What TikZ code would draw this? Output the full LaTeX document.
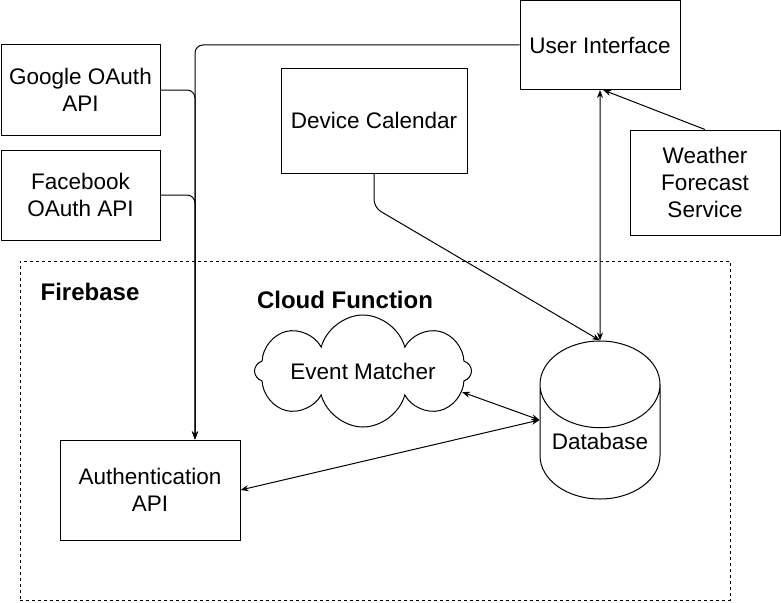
\documentclass[tikz,border=0pt]{standalone}
\usepackage{fontspec}
\setmainfont{Liberation Sans}
\usetikzlibrary{arrows.meta,shapes.geometric,shapes.symbols}
\tikzset{
  box/.style={draw, align=center, inner sep=0pt},
  title/.style={font=\fontsize{24}{28}\selectfont\bfseries},
  link/.style={-{Stealth[length=8pt,width=6pt]}},
  both/.style={{Stealth[length=8pt,width=6pt]}-{Stealth[length=8pt,width=6pt]}},
}
\begin{document}
\begin{tikzpicture}[x=1pt, y=-1pt, line width=1pt, font=\fontsize{22.5}{27}\selectfont]
	\useasboundingbox (0,0) rectangle (781,602);

	% firebase frame
	\node[draw, dash pattern=on 3pt off 3pt, minimum width=710pt, minimum height=339pt] (fb) at (375,430.5) {};
	\node[title] (fbname) at (90,292) {Firebase};
	\node[title] (cfname) at (345,300) {Cloud Function};

	% boxes
	\node[box, minimum width=160pt, minimum height=89pt] (ui) at (600,45) {User Interface};
	\node[box, minimum width=159pt, minimum height=90pt] (go) at (80.5,90) {Google OAuth\\API};
	\node[box, minimum width=159pt, minimum height=90pt] (fa) at (80.5,195) {Facebook\\OAuth API};
	\node[box, minimum width=186pt, minimum height=105pt] (dc) at (374,120.5) {Device Calendar};
	\node[box, minimum width=150pt, minimum height=105pt] (wf) at (705,182.5) {Weather\\Forecast\\Service};
	\node[box, minimum width=180pt, minimum height=100pt] (auth) at (150,490) {Authentication\\API};
	\node[draw, cloud, cloud puffs=8, cloud ignores aspect, minimum width=217pt, minimum height=112pt, inner sep=0pt] (em) at (363,371) {Event Matcher};
	\node[draw, cylinder, shape border rotate=90, aspect=0.9, minimum width=120pt, minimum height=158pt, inner sep=0pt, anchor=shape center] (db) at (600,420) {Database};

	\coordinate (bus) at (195,0);
	\coordinate (dbin) at (db.west |- db.shape center);

	% edges
	\draw[link, rounded corners=8pt] (ui.west) -| (bus |- auth.north);
	\draw[link, rounded corners=8pt] (go.east) -| (bus |- auth.north);
	\draw[link, rounded corners=8pt] (fa.east) -| (bus |- auth.north);
	\draw[link, rounded corners=8pt] (dc.south) -- ++(0,34) -- (db.north);
	\draw[both] (ui.south) -- (db.north);
	\draw[link] (wf.north) -- (ui.-86);
	\draw[both] (em.-12) -- (dbin);
	\draw[both] (auth.east) -- (dbin);
\end{tikzpicture}
\end{document}
